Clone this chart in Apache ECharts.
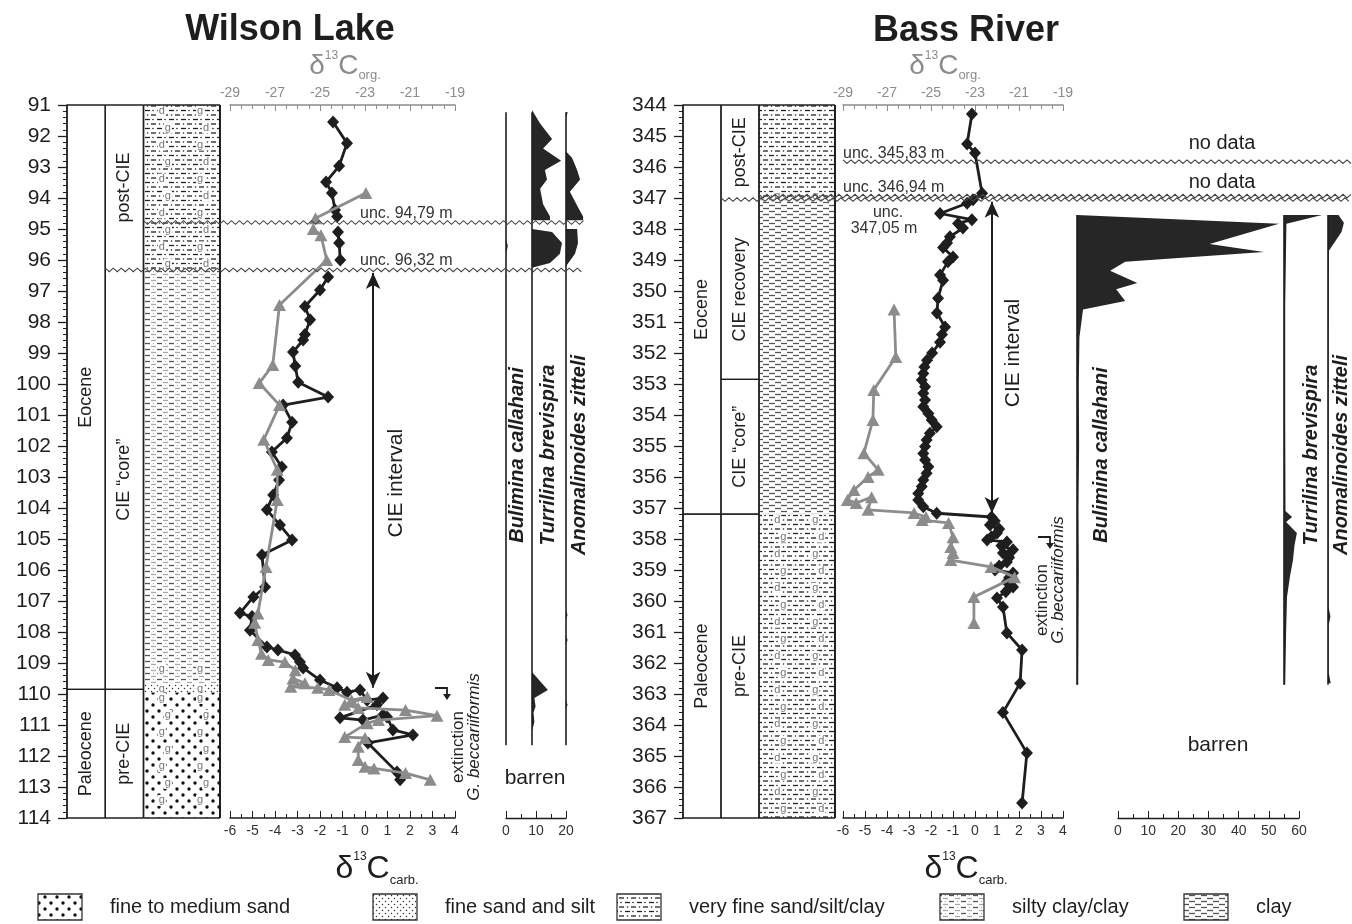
<!DOCTYPE html>
<html>
<head>
<meta charset="utf-8">
<title>Wilson Lake / Bass River</title>
<script src="https://cdn.jsdelivr.net/npm/echarts@6/dist/echarts.min.js"></script>
<style>
  html, body { margin: 0; padding: 0; background: #fff; }
  #chart { width: 1352px; height: 924px; }
</style>
</head>
<body>
<div id="chart"></div>
<script>
// ---- Wilson Lake ----
const wlEpochs = [['Eocene', 91, 109.85], ['Paleocene', 109.85, 114]];
const wlStages = [['post-CIE', 91, 96.32], ['CIE “core”', 96.32, 109.85], ['pre-CIE', 109.85, 114]];
const wlLitho = [[91, 96.32, 'vfs', 'dg'], [96.32, 109.0, 'sclay', ''], [109.0, 109.65, 'sclay', 'g'],
  [109.65, 109.95, 'fsilt', 'g'], [109.95, 114, 'sand', 'g']];
const wlUnc = [94.79, 96.32];
// [depth m, δ13C carb ‰], null = hiatus
const wlCarb = [[91.55, -1.42], [92.23, -0.80], [92.97, -1.15], [93.48, -1.73], [93.84, -1.47], [94.39, -1.33], [94.60, -1.24],
  null, [95.10, -1.20], [95.45, -1.15], [96.00, -1.10],
  null, [96.55, -1.64], [96.97, -2.00], [97.50, -2.67], [97.93, -2.44], [98.40, -2.67], [98.58, -2.75], [98.97, -3.20],
  [99.42, -3.10], [99.94, -2.97], [100.42, -1.64], [100.68, -3.64], [101.23, -3.24], [101.74, -3.47], [102.19, -4.14],
  [102.68, -3.70], [103.10, -3.82], [103.58, -4.08], [104.06, -4.36], [104.55, -3.78], [105.03, -3.24], [105.52, -4.58],
  [106.55, -4.44], [106.87, -4.96], [107.39, -5.56], [107.50, -5.02], [107.94, -5.11], [108.48, -4.36], [108.58, -3.87],
  [108.74, -3.11], [108.97, -2.89], [109.16, -2.75], [109.55, -2.00], [109.80, -1.24], [109.94, -0.80], [109.87, -0.22],
  [110.20, 0.09], [110.13, 0.80], [110.35, 0.53], [110.77, -1.11], [110.84, -0.09], [110.68, 0.80], [110.74, 0.98],
  [111.16, 1.24], [111.32, 2.13], [111.58, 0.13], [112.52, 1.42], [112.77, 1.56]];
// [depth m, δ13C org ‰]
const wlOrg = [[93.84, -22.96], [94.65, -25.20],
  null, [95.00, -25.30], [95.20, -24.96], [96.00, -24.70], [97.45, -26.80], [99.39, -27.10], [99.97, -27.70],
  [100.68, -26.80], [101.80, -27.50], [102.77, -26.90], [103.74, -26.90], [105.90, -27.40], [107.40, -27.76],
  [107.70, -27.90], [108.26, -27.76], [108.70, -27.60], [108.90, -27.30], [108.97, -26.56], [109.23, -26.10],
  [109.50, -26.20], [109.65, -25.67], [109.77, -26.30], [109.80, -25.10], [109.87, -24.60], [110.20, -23.60],
  [110.10, -22.90], [110.35, -23.90], [110.45, -23.30], [110.52, -21.20], [110.70, -19.80], [110.84, -22.40],
  [110.94, -22.90], [111.39, -23.90], [111.42, -23.00], [111.70, -23.30], [112.13, -23.30], [112.35, -23.00],
  [112.40, -22.60], [112.55, -21.20], [112.77, -20.10]];
// benthic foraminifera, [depth m, abundance %]
const wlForamRange = [91.23, 111.65];
const wlBul = [[95.30, 0], [95.55, 0.6], [95.80, 0]];
const wlTur = [[91.16, 0], [91.60, 2.7], [92.10, 6.7], [92.40, 3.7], [92.80, 9.7], [93.10, 4.3], [93.40, 5.0], [93.70, 2.7],
  [94.20, 3.7], [94.60, 6.0], [94.72, 6.0], null, [95.00, 0], [95.10, 6.7], [95.45, 10.0], [95.80, 9.3], [96.10, 6.0],
  [96.25, 0], null, [109.29, 0], [109.87, 5.3], [110.13, 0.8], [110.40, 1.2], [110.60, 0.5], [110.90, 0.8], [111.20, 0]];
const wlAno = [[91.23, 0.6], [91.40, 0], null, [92.50, 0], [92.70, 2.0], [93.10, 3.7], [93.40, 4.7], [93.80, 1.3], [94.30, 4.0],
  [94.60, 5.7], [94.72, 5.7], null, [95.00, 3.7], [95.45, 4.0], [95.80, 3.0], [96.20, 0], null,
  [107.30, 0], [107.45, 0.5], [107.60, 0], null, [108.10, 0], [108.26, 0.5], [108.40, 0], null, [110.20, 0], [110.35, 0.5], [110.50, 0]];
const wlCie = [0.36, 96.42, 109.8];

// ---- Bass River ----
const brEpochs = [['Eocene', 344, 357.2], ['Paleocene', 357.2, 367]];
const brStages = [['post-CIE', 344, 347.05], ['CIE recovery', 347.05, 352.85], ['CIE “core”', 352.85, 357.2], ['pre-CIE', 357.2, 367]];
const brLitho = [[344, 346.75, 'vfs', ''], [346.75, 347.05, 'vfs', 'g'], [347.05, 357.2, 'clay', ''], [357.2, 367, 'vfs', 'dg']];
const brUnc = [345.83, 346.94, 347.05];
const brCarb = [[344.29, -0.14], [345.26, -0.36], [345.55, 0.00], [346.85, 0.32], [347.06, -0.09], [347.17, -0.36],
  [347.50, -1.59], [347.70, -0.14], [347.82, -0.77], [347.97, -0.55], [348.25, -1.14], [348.45, -1.27], [348.60, -1.45],
  [348.90, -1.00], [349.06, -1.23], [349.48, -1.59], [349.65, -1.45], [350.23, -1.68], [350.71, -1.73], [351.16, -1.36],
  [351.40, -1.50], [351.65, -1.59], [352.00, -1.95], [352.23, -2.18], [352.45, -2.30], [352.66, -2.35], [352.87, -2.42],
  [353.09, -2.27], [353.30, -2.35], [353.52, -2.27], [353.73, -2.35], [353.95, -2.12], [354.16, -1.97], [354.38, -1.74],
  [354.59, -2.05], [354.81, -2.20], [355.02, -2.27], [355.24, -2.35], [355.45, -2.27], [355.67, -2.12], [355.88, -2.20],
  [356.10, -2.35], [356.31, -2.42], [356.53, -2.58], [356.74, -2.58], [356.96, -2.35], [357.17, -1.74], [357.29, 0.75],
  [357.42, 0.90], [357.55, 0.68], [357.68, 1.10], [357.81, 1.00], [357.93, 0.75], [358.03, 0.55], [358.10, 1.45],
  [358.22, 1.20], [358.35, 1.73], [358.45, 1.27], [358.60, 1.55], [358.74, 1.45], [358.87, 1.10], [359.00, 0.91],
  [359.10, 1.73], [359.25, 1.55], [359.39, 1.45], [359.55, 1.73], [359.70, 1.40], [359.90, 1.00], [360.19, 1.27],
  [361.03, 1.45], [361.58, 2.14], [362.65, 2.05], [363.60, 1.27], [364.90, 2.36], [366.52, 2.14]];
const brOrg = [[350.60, -26.68], [352.13, -26.60], [353.19, -27.60], [354.16, -27.64], [355.23, -28.05], [355.77, -27.40],
  [356.00, -27.86], [356.42, -28.50], [356.74, -28.80], [356.84, -28.40], [356.65, -27.70], [357.06, -27.86],
  [357.16, -25.77], [357.29, -25.23], [357.39, -25.40], [357.48, -24.20], [357.94, -24.00], [358.26, -24.10],
  [358.45, -24.00], [358.68, -24.10], [358.90, -22.27], [359.23, -21.20], [359.87, -23.05], [360.71, -23.05]];
const brForamRange = [347.55, 362.7];
const brBul = [[347.55, 0], [347.83, 67], [348.48, 44], [348.74, 62], [349.06, 16], [349.35, 11], [349.74, 20], [349.94, 13],
  [350.32, 16], [350.60, 2], [351.50, 0.8], [353.00, 0.6], [355.00, 0.7], [357.00, 0.5], [359.00, 0.6], [361.00, 0.5], [362.70, 0.4]];
const brTur = [[347.55, 12.7], [347.83, 0.8], [350.50, 0.4], [354.00, 0.4], [357.10, 0.5], [357.29, 2.7], [357.45, 0.7],
  [357.81, 4.3], [358.20, 3.5], [358.68, 3.0], [359.20, 2.0], [359.87, 1.0], [361.03, 0.7], [362.70, 0.4]];
const brAno = [[347.55, 3.5], [347.80, 5.3], [348.10, 4.5], [348.70, 0.3], [352.00, 0.2], [356.00, 0.2], [360.20, 0.2],
  [360.50, 0.8], [360.80, 0.2], [362.30, 0.2], [362.65, 0.9]];
const brCie = [0.77, 347.12, 357.16];

const FONT = '"Liberation Sans", Arial, sans-serif';
const INK = '#1e1e1e';
const GREY = '#8c8c8c';

// lithology fill patterns
function makePattern(kind) {
  const W = 36, H = 36;
  const c = document.createElement('canvas');
  c.width = W; c.height = H;
  const g = c.getContext('2d');
  g.fillStyle = '#fff';
  g.fillRect(0, 0, W, H);
  const dot = (x, y, r, col) => { g.fillStyle = col; g.beginPath(); g.arc(x, y, r, 0, Math.PI * 2); g.fill(); };
  const dash = (x1, x2, y, col) => { g.strokeStyle = col; g.lineWidth = 1.3; g.beginPath(); g.moveTo(x1, y); g.lineTo(x2, y); g.stroke(); };
  for (let y = 0; y < H; y += 12) {
    for (let x = 0; x < W; x += 12) {
      if (kind === 'sand') { dot(x + 3, y + 3, 1.7, '#111'); dot(x + 9, y + 9, 1.7, '#111'); }
      if (kind === 'fsilt') {
        for (let k = 0; k < 12; k += 6) { dot(x + 1.5, y + k + 1.5, 0.75, '#333'); dot(x + 7.5, y + k + 1.5, 0.75, '#333'); dot(x + 4.5, y + k + 4.5, 0.75, '#333'); dot(x + 10.5, y + k + 4.5, 0.75, '#333'); }
      }
      if (kind === 'sclay') {
        for (let k = 0; k < 12; k += 6) { dash(x + 1, x + 6, y + k + 1.5, '#555'); dash(x + 7, x + 12, y + k + 4.5, '#aaa'); dot(x + 9.5, y + k + 1.5, 0.6, '#999'); }
      }
      if (kind === 'clay') {
        for (let k = 0; k < 12; k += 6) { dash(x + 1, x + 7, y + k + 1.5, '#555'); dash(x + 7, x + 12, y + k + 4.5, '#555'); dash(x, x + 1, y + k + 4.5, '#555'); }
      }
    }
  }
  if (kind === 'vfs') {
    for (let y = 0; y < H; y += 9) {
      for (let x = 0; x < W; x += 12) {
        dash(x + 1, x + 6, y + 2.5, '#222'); dot(x + 9, y + 2.5, 0.8, '#222');
        dash(x + 7, x + 12, y + 7, '#222'); dot(x + 3.5, y + 7, 0.8, '#222');
      }
    }
  }
  return { image: c, repeat: 'repeat' };
}
const pattern = {};
['sand', 'fsilt', 'vfs', 'sclay', 'clay'].forEach(k => { pattern[k] = makePattern(k); });

function boxesOf(epochs, stages) {
  return epochs.map(e => ({ col: 0, label: e[0], top: e[1], bot: e[2] }))
    .concat(stages.map(s => ({ col: 1, label: s[0], top: s[1], bot: s[2] })));
}

const lineEl = (x1, y1, x2, y2, w) => ({ type: 'line', shape: { x1, y1, x2, y2 }, style: { stroke: INK, lineWidth: w || 1.3 } });

function renderBoxes(boxes, unc) {
  return function (params, api) {
    const b = boxes[params.dataIndex];
    const a = api.coord([b.col, b.top]);
    const c = api.coord([b.col + 1, b.bot]);
    const kids = [lineEl(a[0], a[1], a[0], c[1]), lineEl(c[0], a[1], c[0], c[1])];
    if (unc.indexOf(b.top) < 0) kids.push(lineEl(a[0], a[1], c[0], a[1]));
    if (unc.indexOf(b.bot) < 0) kids.push(lineEl(a[0], c[1], c[0], c[1]));
    kids.push({
      type: 'text', x: (a[0] + c[0]) / 2, y: (a[1] + c[1]) / 2, rotation: Math.PI / 2,
      style: { text: b.label, fill: INK, fontSize: 18, fontFamily: FONT, align: 'center', verticalAlign: 'middle' }
    });
    return { type: 'group', children: kids };
  };
}

function renderLitho(layers) {
  return function (params, api) {
    const i = params.dataIndex;
    const l = layers[i];
    const a = api.coord([2, l[0]]);
    const c = api.coord([4, l[1]]);
    const w = c[0] - a[0];
    const kids = [{ type: 'rect', shape: { x: a[0], y: a[1], width: w, height: c[1] - a[1] }, style: { fill: pattern[l[2]] } }];
    if (l[3]) {
      let row = 0;
      for (let y = a[1] + 6; y < c[1] - 2; y += 17, row++) {
        [0.24, 0.74].forEach((f, k) => {
          kids.push({
            type: 'text', x: a[0] + w * f + (row % 2 ? 6 : 0), y,
            style: { text: l[3][(k + row) % l[3].length], fill: '#777', fontSize: 11, fontFamily: FONT,
              align: 'center', verticalAlign: 'middle', backgroundColor: '#fff', padding: [0, 1] }
          });
        });
      }
    }
    kids.push(lineEl(a[0], a[1], a[0], c[1], 1.5), lineEl(c[0], a[1], c[0], c[1], 2));
    if (i === 0) kids.push(lineEl(a[0], a[1], c[0], a[1], 1.5));
    if (i === layers.length - 1) kids.push(lineEl(a[0], c[1], c[0], c[1], 1.5));
    return { type: 'group', children: kids };
  };
}

function renderForam(profile, range) {
  return function (params, api) {
    const kids = [];
    let seg = [];
    const flush = () => {
      if (seg.length) {
        const pts = [api.coord([0, seg[0][0]])];
        seg.forEach(p => pts.push(api.coord([p[1], p[0]])));
        pts.push(api.coord([0, seg[seg.length - 1][0]]));
        kids.push({ type: 'polygon', shape: { points: pts }, style: { fill: '#262626' } });
      }
      seg = [];
    };
    profile.forEach(p => { if (p) seg.push(p); else flush(); });
    flush();
    const a = api.coord([0, range[0]]), b = api.coord([0, range[1]]);
    kids.push(lineEl(a[0], a[1], b[0], b[1], 1.6));
    return { type: 'group', children: kids };
  };
}

const toXY = arr => arr.map(p => (p ? [p[1], p[0]] : ['-', '-']));

const T = 105, H = 713;
const grids = [
  { left: 67, width: 153 }, { left: 230, width: 225 }, { left: 506, width: 60 }, { left: 532, width: 60 }, { left: 566, width: 60 },
  { left: 683, width: 152 }, { left: 843, width: 220 }, { left: 1077, width: 211 }, { left: 1118, width: 181 },
  { left: 1284, width: 60 }, { left: 1328, width: 24 }
].map(g => Object.assign({ top: T, height: H }, g));

const hiddenX = (gi, max) => ({ gridIndex: gi, type: 'value', min: 0, max, show: false });
const carbAxis = gi => ({
  gridIndex: gi, type: 'value', position: 'bottom', min: -6, max: 4, interval: 1,
  axisLine: { onZero: false, lineStyle: { color: INK, width: 1.5 } },
  axisTick: { inside: true, length: 7, lineStyle: { color: INK } },
  minorTick: { show: true, splitNumber: 2, length: 4, lineStyle: { color: INK } },
  axisLabel: { fontSize: 14, color: '#333', margin: 6, fontFamily: FONT },
  splitLine: { show: false }
});
const orgAxis = gi => ({
  gridIndex: gi, type: 'value', position: 'top', min: -29, max: -19, interval: 2,
  axisLine: { onZero: false, lineStyle: { color: GREY, width: 1.5 } },
  axisTick: { inside: true, length: 6, lineStyle: { color: GREY } },
  minorTick: { show: true, splitNumber: 4, length: 4, lineStyle: { color: GREY } },
  axisLabel: { fontSize: 14, color: GREY, margin: 5, fontFamily: FONT },
  splitLine: { show: false }
});
const foramAxis = (gi, max) => ({
  gridIndex: gi, type: 'value', position: 'bottom', min: 0, max, interval: 10,
  axisLine: { onZero: false, lineStyle: { color: INK, width: 1.4 } },
  axisTick: { inside: true, length: 7, lineStyle: { color: INK } },
  minorTick: { show: true, splitNumber: 2, length: 4, lineStyle: { color: INK } },
  axisLabel: { fontSize: 14, color: '#333', margin: 6, fontFamily: FONT },
  splitLine: { show: false }
});
const depthAxis = (gi, min, max, show) => show ? {
  gridIndex: gi, type: 'value', inverse: true, min, max, interval: 1,
  axisLine: { show: true, lineStyle: { color: INK, width: 1.5 } },
  axisTick: { show: true, length: 9, lineStyle: { color: INK, width: 1.3 } },
  minorTick: { show: true, splitNumber: 5, length: 4, lineStyle: { color: INK } },
  axisLabel: { fontSize: 21, color: INK, margin: 16, fontFamily: FONT, showMinLabel: true, showMaxLabel: true },
  splitLine: { show: false }
} : { gridIndex: gi, type: 'value', inverse: true, min, max, show: false };

const xAxes = [hiddenX(0, 4), carbAxis(1), orgAxis(1), foramAxis(2, 20), hiddenX(3, 20), hiddenX(4, 20),
  hiddenX(5, 4), carbAxis(6), orgAxis(6), hiddenX(7, 70), foramAxis(8, 60), hiddenX(9, 20), hiddenX(10, 8)];
const yAxes = [depthAxis(0, 91, 114, true), depthAxis(1, 91, 114), depthAxis(2, 91, 114), depthAxis(3, 91, 114), depthAxis(4, 91, 114),
  depthAxis(5, 344, 367, true), depthAxis(6, 344, 367), depthAxis(7, 344, 367), depthAxis(8, 344, 367), depthAxis(9, 344, 367), depthAxis(10, 344, 367)];

const wlBoxes = boxesOf(wlEpochs, wlStages);
const brBoxes = boxesOf(brEpochs, brStages);

function cieMark(cie) {
  return {
    silent: true, symbol: ['arrow', 'arrow'], symbolSize: [11, 16], label: { show: false },
    lineStyle: { color: INK, width: 2, type: 'solid' },
    data: [[{ coord: [cie[0], cie[1]] }, { coord: [cie[0], cie[2]] }]]
  };
}
const carbSeries = (xi, yi, data, cie) => ({
  type: 'line', xAxisIndex: xi, yAxisIndex: yi, data: toXY(data), connectNulls: false,
  symbol: 'diamond', symbolSize: [12, 13], itemStyle: { color: INK }, lineStyle: { color: INK, width: 2.8 },
  markLine: cieMark(cie), z: 3
});
const orgSeries = (xi, yi, data) => ({
  type: 'line', xAxisIndex: xi, yAxisIndex: yi, data: toXY(data), connectNulls: false,
  symbol: 'triangle', symbolSize: [13, 12], itemStyle: { color: GREY }, lineStyle: { color: GREY, width: 2.8 }, z: 4
});
const foramSeries = (xi, yi, profile, range) => ({
  type: 'custom', xAxisIndex: xi, yAxisIndex: yi, data: [[0, range[0]]], renderItem: renderForam(profile, range), silent: true
});

const chart = echarts.init(document.getElementById('chart'));
chart.setOption({
  animation: false,
  backgroundColor: '#fff',
  textStyle: { fontFamily: FONT },
  grid: grids,
  xAxis: xAxes,
  yAxis: yAxes,
  series: [
    { type: 'custom', xAxisIndex: 0, yAxisIndex: 0, data: wlLitho.map(l => [2, l[0], l[1]]), renderItem: renderLitho(wlLitho), silent: true },
    { type: 'custom', xAxisIndex: 0, yAxisIndex: 0, data: wlBoxes.map(b => [b.col, b.top, b.bot]), renderItem: renderBoxes(wlBoxes, wlUnc), silent: true },
    carbSeries(1, 1, wlCarb, wlCie),
    orgSeries(2, 1, wlOrg),
    foramSeries(3, 2, wlBul, wlForamRange),
    foramSeries(4, 3, wlTur, wlForamRange),
    foramSeries(5, 4, wlAno, wlForamRange),
    { type: 'custom', xAxisIndex: 6, yAxisIndex: 5, data: brLitho.map(l => [2, l[0], l[1]]), renderItem: renderLitho(brLitho), silent: true },
    { type: 'custom', xAxisIndex: 6, yAxisIndex: 5, data: brBoxes.map(b => [b.col, b.top, b.bot]), renderItem: renderBoxes(brBoxes, brUnc), silent: true },
    carbSeries(7, 6, brCarb, brCie),
    orgSeries(8, 6, brOrg),
    foramSeries(9, 7, brBul, brForamRange),
    foramSeries(11, 9, brTur, brForamRange),
    foramSeries(12, 10, brAno, brForamRange)
  ]
});

// annotations, placed after the axes are laid out
const py = (yi, d) => chart.convertToPixel({ yAxisIndex: yi }, d);
const px = (xi, v) => chart.convertToPixel({ xAxisIndex: xi }, v);

function zig(x1, x2, y) {
  const pts = [];
  let up = true;
  for (let x = x1; x <= x2; x += 4) { pts.push([x, y + (up ? -1.8 : 1.8)]); up = !up; }
  return { type: 'polyline', z: 20, silent: true, shape: { points: pts }, style: { stroke: '#444', lineWidth: 1.1, fill: null } };
}
function txt(x, y, text, st, rot) {
  return {
    type: 'text', x, y, z: 20, silent: true, rotation: rot || 0,
    style: Object.assign({ text, fill: INK, fontSize: 18, fontFamily: FONT, align: 'center', verticalAlign: 'middle' }, st || {})
  };
}
function delta(x, y, sub, col, big) {
  return txt(x, y, '{a|δ}{s|13}{a|C}{b|' + sub + '}', {
    fill: col,
    rich: {
      a: { fontSize: big, fontFamily: FONT, fill: col, lineHeight: big + 4 },
      s: { fontSize: 12, fontFamily: FONT, fill: col, verticalAlign: 'top', lineHeight: 14 },
      b: { fontSize: 13, fontFamily: FONT, fill: col, verticalAlign: 'bottom', lineHeight: 14 }
    }
  });
}
function hook(x, y) {
  return [
    { type: 'polyline', z: 20, silent: true, shape: { points: [[x - 12, y], [x, y], [x, y + 7]] }, style: { stroke: INK, lineWidth: 1.8, fill: null } },
    { type: 'polygon', z: 20, silent: true, shape: { points: [[x - 4, y + 6], [x + 4, y + 6], [x, y + 12]] }, style: { fill: INK } }
  ];
}
const species = { fontSize: 20, fontWeight: 'bold', fontStyle: 'italic' };
const italic = { fontSize: 17, fontStyle: 'italic' };
const unc = { fontSize: 16, align: 'left', fill: '#333' };

const els = [
  txt(290, 30, 'Wilson Lake', { fontSize: 36, fontWeight: 'bold' }),
  txt(966, 31, 'Bass River', { fontSize: 36, fontWeight: 'bold' }),
  delta(345, 66, 'org.', GREY, 28),
  delta(945, 66, 'org.', GREY, 28),
  delta(377, 869, 'carb.', INK, 32),
  delta(966, 869, 'carb.', INK, 32),
  // Wilson Lake unconformities
  zig(px(0, 2), 584, py(0, 94.79)),
  zig(px(0, 1), 584, py(0, 96.32)),
  txt(360, py(0, 94.79) - 9, 'unc. 94,79 m', unc),
  txt(360, py(0, 96.32) - 9, 'unc. 96,32 m', unc),
  txt(396, py(0, 103.2), 'CIE interval', { fontSize: 21 }, Math.PI / 2),
  txt(458, 747, 'extinction', { fontSize: 17 }, Math.PI / 2),
  txt(474, 737, 'G. beccariiformis', italic, Math.PI / 2),
  ...hook(447, 688),
  txt(517, 455, 'Bulimina callahani', species, Math.PI / 2),
  txt(548, 455, 'Turrilina brevispira', species, Math.PI / 2),
  txt(579, 455, 'Anomalinoides zitteli', species, Math.PI / 2),
  txt(535, 778, 'barren', { fontSize: 21 }),
  // Bass River unconformities
  zig(843, 1352, py(5, 345.83)),
  zig(px(6, 2), 1352, py(5, 346.94)),
  zig(px(6, 1), 1352, py(5, 347.05)),
  txt(843, py(5, 345.83) - 8, 'unc. 345,83 m', unc),
  txt(843, py(5, 346.94) - 9, 'unc. 346,94 m', unc),
  txt(888, 213, 'unc.', { fontSize: 16, fill: '#333' }),
  txt(884, 229, '347,05 m', { fontSize: 16, fill: '#333' }),
  txt(1222, 143, 'no data', { fontSize: 20 }),
  txt(1222, 182, 'no data', { fontSize: 20 }),
  txt(1013, py(5, 352.0), 'CIE interval', { fontSize: 21 }, Math.PI / 2),
  txt(1042, 600, 'extinction', { fontSize: 17 }, Math.PI / 2),
  txt(1058, 580, 'G. beccariiformis', italic, Math.PI / 2),
  ...hook(1050, 537),
  txt(1101, 455, 'Bulimina callahani', species, Math.PI / 2),
  txt(1311, 455, 'Turrilina brevispira', species, Math.PI / 2),
  txt(1341, 455, 'Anomalinoides zitteli', species, Math.PI / 2),
  txt(1218, 745, 'barren', { fontSize: 21 })
];

// lithology key
[['sand', 'fine to medium sand', 38], ['fsilt', 'fine sand and silt', 373], ['vfs', 'very fine sand/silt/clay', 617],
  ['sclay', 'silty clay/clay', 940], ['clay', 'clay', 1184]].forEach(k => {
  els.push({ type: 'rect', z: 20, silent: true, shape: { x: k[2], y: 894, width: 44, height: 26 }, style: { fill: pattern[k[0]], stroke: '#333', lineWidth: 1.3 } });
  els.push(txt(k[2] + 72, 907, k[1], { fontSize: 20, align: 'left' }));
});

chart.setOption({ graphic: { elements: els } });
</script>
</body>
</html>
